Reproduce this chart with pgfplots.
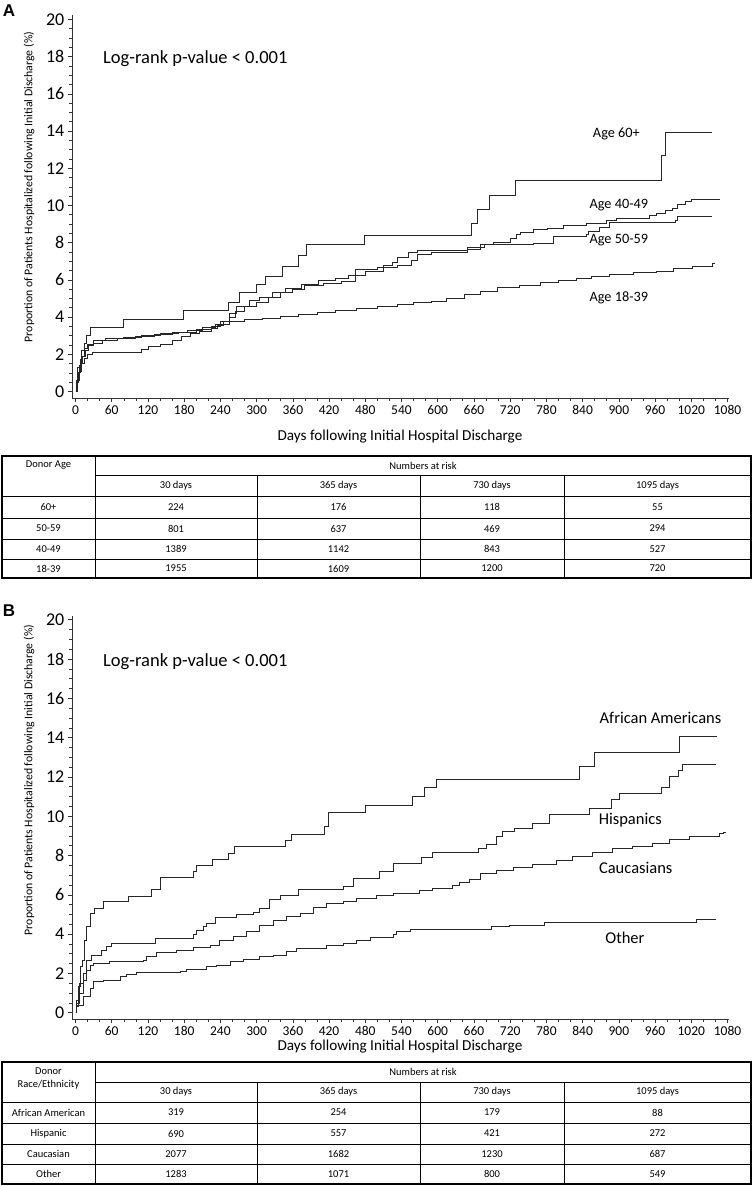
\documentclass[border=0pt]{standalone}
\usepackage{pgfplots}
\pgfplotsset{compat=1.18}
\usepackage{fontspec}
\setmainfont{Carlito}
\newfontfamily\arialf{Liberation Sans}
\pgfplotsset{
  kmaxis/.style={
    scale only axis, width=656.8pt,
    xmin=-6, xmax=1082,
    axis lines=left, axis line style={-, black!80, line width=0.8pt},
    xtick={0,60,...,1080}, minor x tick num=2,
    ytick={0,2,...,20}, minor y tick num=3,
    tick align=outside, major tick length=4pt, minor tick length=2.5pt,
    every tick/.style={black!80, line width=0.6pt},
    /pgf/number format/assume math mode=true,
    /pgf/number format/1000 sep={},
    xticklabel style={font=\fontsize{13.5}{14}\selectfont},
    yticklabel style={font=\fontsize{18}{20}\selectfont},
    clip=false,
  },
  km/.style={const plot, black!85, line width=0.9pt, mark=none},
}
\newcommand\trow[6]{%
  \node at (48.5,-#1) {#2};
  \node at (176,-#1) {#3};
  \node at (338.5,-#1) {#4};
  \node at (492,-#1) {#5};
  \node at (657.5,-#1) {#6};}
\begin{document}
\begin{tikzpicture}[x=1pt,y=1pt]
\path[use as bounding box] (0,0) rectangle (754,-1186);
% ---------------- Panel A ----------------
\node[font=\arialf\bfseries\fontsize{17}{18}\selectfont] at (9,-11) {A};
\begin{axis}[kmaxis, height=382.8pt, ymin=-0.35, ymax=20.23,
  at={(71.9pt,-398pt)}, anchor=south west]
\addplot[km] table {
0 0
2 0.6
4 1.3
8 1.7
10 2.2
15 2.6
18 3.0
25 3.46
79 3.9
178 4.36
254 4.8
271 5.3
299 5.75
315 6.2
342 6.7
369 7.3
383 7.9
478 8.38
656 9.06
666 9.77
685 10.53
729 11.34
970 12.7
977 13.9
1055 13.9
};
\addplot[km] table {
0 0
3 0.6
6 1.1
10 1.5
15 1.8
20 2.0
28 2.1
110 2.27
120 2.4
140 2.55
160 2.75
175 2.95
190 3.1
205 3.25
225 3.4
235 3.55
245 3.75
255 4.0
265 4.3
280 4.55
300 4.8
320 5.05
340 5.3
360 5.5
380 5.7
410 5.8
440 5.9
463 6.55
500 6.65
534 6.79
556 7.04
567 7.36
589 7.5
649 7.66
671 7.89
759 7.98
792 8.34
847 8.46
849 8.61
868 8.82
885 9.09
994 9.18
997 9.41
1055 9.41
};
\addplot[km] table {
0 0
3 0.9
6 1.4
10 1.9
14 2.3
20 2.55
30 2.75
50 2.85
80 2.92
110 3.0
140 3.1
170 3.2
200 3.35
225 3.5
240 3.75
255 4.2
266 4.55
288 4.9
304 5.05
326 5.3
348 5.55
375 5.75
403 5.96
430 6.1
452 6.25
480 6.45
510 6.75
525 6.95
534 7.18
551 7.48
567 7.57
649 7.75
677 7.89
693 8.02
721 8.25
731 8.43
737 8.55
759 8.70
781 8.79
808 8.93
847 9.05
879 9.20
896 9.32
951 9.45
962 9.55
978 9.71
989 9.82
997 10.04
1011 10.21
1020 10.34
1068 10.34
};
\addplot[km] table {
0 0
2 0.5
5 1.0
8 1.5
12 1.9
16 2.2
22 2.45
30 2.6
45 2.75
70 2.85
100 2.95
130 3.05
160 3.15
185 3.3
210 3.45
232 3.6
255 3.75
280 3.85
310 3.95
340 4.05
370 4.15
400 4.25
430 4.35
465 4.45
500 4.57
534 4.68
560 4.78
589 4.86
615 5.0
644 5.2
670 5.38
699 5.57
735 5.7
770 5.84
800 5.97
830 6.1
855 6.2
885 6.29
925 6.38
962 6.47
990 6.6
1022 6.73
1055 6.86
1060 6.86
};
\node[anchor=west, font=\fontsize{18.5}{20}\selectfont] at (axis cs:40,17.9) {Log-rank p-value < 0.001};
\node[font=\fontsize{14.3}{16}\selectfont] at (axis cs:896,13.86) {Age 60+};
\node[font=\fontsize{14.3}{16}\selectfont] at (axis cs:900,10.04) {Age 40-49};
\node[font=\fontsize{14.3}{16}\selectfont] at (axis cs:900,8.12) {Age 50-59};
\node[font=\fontsize{14.3}{16}\selectfont] at (axis cs:900,5.04) {Age 18-39};
\end{axis}
\node[rotate=90, font=\fontsize{11.8}{13}\selectfont] at (29,-187) {Proportion of Patients Hospitalized following Initial Discharge (\%)};
\node[font=\fontsize{15.2}{17}\selectfont] at (400,-437) {Days following Initial Hospital Discharge};
% table A
\begin{scope}[font=\fontsize{10.5}{12}\selectfont]
\draw[line width=0.8pt] (95,-456) -- (95,-578);
\draw[line width=0.8pt] (95,-475) -- (751,-475);
\foreach \x in {257,420,564} \draw[line width=0.8pt] (\x,-475) -- (\x,-578);
\foreach \y in {496,518,539,559} \draw[line width=0.8pt] (2,-\y) -- (751,-\y);
\draw[line width=2.4pt] (2,-456) rectangle (751,-578);
\node at (48.5,-465.5) {Donor Age};
\node at (423,-465.5) {Numbers at risk};
\trow{485.5}{}{30 days}{365 days}{730 days}{1095 days}
\trow{507}{60+}{224}{176}{118}{55}
\trow{528.5}{50-59}{801}{637}{469}{294}
\trow{549}{40-49}{1389}{1142}{843}{527}
\trow{568.5}{18-39}{1955}{1609}{1200}{720}
\end{scope}
% ---------------- Panel B ----------------
\node[font=\arialf\bfseries\fontsize{17}{18}\selectfont] at (9,-611) {B};
\begin{axis}[kmaxis, height=402.6pt, ymin=-0.32, ymax=20.17,
  at={(71.9pt,-1019pt)}, anchor=south west]
\addplot[km] table {
0 0
1 0.3
4.7 1.32
8.5 2.34
11.8 2.68
14.1 3.69
18.5 4.37
25 5.06
32 5.31
46 5.65
87 5.94
126 6.28
140 6.87
195 7.18
201 7.52
227 7.8
253 8.11
263 8.45
348 8.79
358 9.08
413 9.47
419 10.18
481 10.57
558 11.0
578 11.47
598 11.87
835 12.52
860 13.23
1001 14.05
1062 14.05
};
\addplot[km] table {
0 0
2 0.64
7 1.5
13 2.0
18.5 2.68
27 2.94
43 3.19
52 3.36
60 3.53
132 3.79
195 3.96
201 4.21
212 4.38
217 4.55
231 4.86
267 5.01
294 5.11
305 5.31
322 5.74
339 5.99
369 6.25
443 6.42
460 6.84
504 7.18
526 7.61
573 7.9
592 8.16
667 8.36
680 8.58
697 8.96
708 9.21
727 9.38
757 9.64
785 10.11
851 10.40
887 10.83
901 11.17
970 11.45
984 12.0
998 12.35
1006 12.65
1061 12.65
};
\addplot[km] table {
0 0
2 0.47
7 0.98
13 1.66
18.5 2.17
24 2.43
29.5 2.51
57 2.6
112 2.68
118 2.85
134 3.05
167 3.19
195 3.33
223 3.44
239 3.7
261 3.87
283 4.12
305 4.46
328 4.72
350 4.89
372 5.06
394 5.36
416 5.57
444 5.65
466 5.82
499 5.99
526 6.06
570 6.21
592 6.33
625 6.5
636 6.62
653 6.76
670 7.09
697 7.23
725 7.38
757 7.57
796 7.77
823 7.97
856 8.14
890 8.36
923 8.45
956 8.62
984 8.82
1017 8.96
1066 9.13
1074 9.18
1078 9.18
};
\addplot[km] table {
0 0
2 0.38
13 0.81
24 1.24
29.5 1.58
46 1.66
74 1.83
85 1.95
101 2.04
173 2.09
184 2.21
217 2.34
234 2.43
256 2.6
278 2.72
305 2.85
328 2.94
350 3.11
366 3.28
416 3.41
444 3.53
466 3.67
488 3.82
526 3.96
532 4.12
554 4.24
689 4.37
719 4.46
777 4.6
1028 4.77
1061 4.77
};
\node[anchor=west, font=\fontsize{18.5}{20}\selectfont] at (axis cs:40,17.85) {Log-rank p-value < 0.001};
\node[font=\fontsize{16.5}{18}\selectfont] at (axis cs:969,15.0) {African Americans};
\node[font=\fontsize{16.5}{18}\selectfont] at (axis cs:919,9.8) {Hispanics};
\node[font=\fontsize{16.5}{18}\selectfont] at (axis cs:928,7.35) {Caucasians};
\node[font=\fontsize{16.5}{18}\selectfont] at (axis cs:910,3.79) {Other};
\end{axis}
\node[rotate=90, font=\fontsize{11.8}{13}\selectfont] at (29,-780) {Proportion of Patients Hospitalized following Initial Discharge (\%)};
\node[font=\fontsize{15.2}{17}\selectfont] at (400,-1047) {Days following Initial Hospital Discharge};
% table B
\begin{scope}[font=\fontsize{10.5}{12}\selectfont]
\draw[line width=0.8pt] (95,-1062) -- (95,-1184);
\draw[line width=0.8pt] (95,-1082) -- (751,-1082);
\foreach \x in {257,420,564} \draw[line width=0.8pt] (\x,-1082) -- (\x,-1184);
\foreach \y in {1102,1123,1144,1164} \draw[line width=0.8pt] (2,-\y) -- (751,-\y);
\draw[line width=2.4pt] (2,-1062) rectangle (751,-1184);
\node at (48.5,-1071) {Donor};
\node at (48.5,-1085) {Race/Ethnicity};
\node at (423,-1072) {Numbers at risk};
\trow{1092}{}{30 days}{365 days}{730 days}{1095 days}
\trow{1112.5}{African American}{319}{254}{179}{88}
\trow{1133.5}{Hispanic}{690}{557}{421}{272}
\trow{1154}{Caucasian}{2077}{1682}{1230}{687}
\trow{1174}{Other}{1283}{1071}{800}{549}
\end{scope}
\end{tikzpicture}
\end{document}
